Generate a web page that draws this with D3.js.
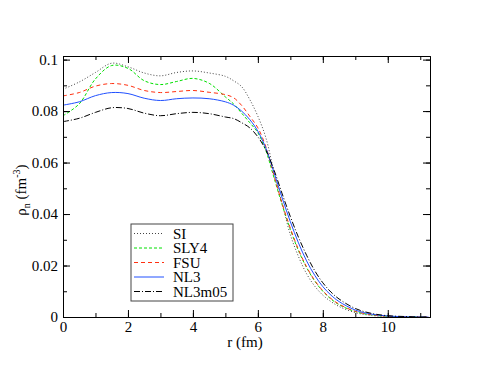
<!DOCTYPE html>
<html>
<head>
<meta charset="utf-8">
<script src="https://cdn.jsdelivr.net/npm/d3@7"></script>
<style>
  body { margin: 0; background: #fff; }
  svg text { fill: #000; }
</style>
</head>
<body>
<script>
// radius grid (fm)
const r = [0, 0.5, 1, 1.5, 2, 2.5, 3, 3.5, 4, 4.5, 5, 5.25, 5.5, 5.75, 6, 6.25, 6.5, 6.75, 7, 7.25, 7.5, 7.75, 8, 8.25, 8.5, 9, 9.5, 10, 10.5, 11, 11.25];

// neutron densities (fm^-3)
const si     = [0.0885, 0.0913, 0.0950, 0.0986, 0.0972, 0.0948, 0.0937, 0.0950, 0.0956, 0.0948, 0.0935, 0.0918, 0.0895, 0.0845, 0.0780, 0.0695, 0.0560, 0.0440, 0.0320, 0.0235, 0.0168, 0.0120, 0.0085, 0.0060, 0.0041, 0.0017, 0.0006, 0.0002, 0.0001, 0, 0];
const sly4   = [0.0782, 0.0828, 0.0925, 0.0977, 0.0966, 0.0918, 0.0903, 0.0915, 0.0927, 0.0908, 0.0855, 0.0828, 0.0792, 0.0755, 0.0716, 0.0645, 0.0540, 0.0435, 0.0340, 0.0258, 0.0192, 0.0140, 0.0100, 0.0070, 0.0048, 0.0021, 0.0008, 0.0003, 0.0001, 0, 0];
const fsu    = [0.0859, 0.0872, 0.0897, 0.0907, 0.0900, 0.0880, 0.0872, 0.0876, 0.0880, 0.0873, 0.0864, 0.0852, 0.0822, 0.0780, 0.0735, 0.0660, 0.0548, 0.0440, 0.0345, 0.0262, 0.0195, 0.0142, 0.0102, 0.0072, 0.0050, 0.0022, 0.0009, 0.0003, 0.0001, 0, 0];
const nl3    = [0.0823, 0.0836, 0.0860, 0.0872, 0.0868, 0.0850, 0.0841, 0.0848, 0.0851, 0.0848, 0.0836, 0.0823, 0.0800, 0.0767, 0.0722, 0.0655, 0.0560, 0.0462, 0.0370, 0.0288, 0.0218, 0.0162, 0.0118, 0.0085, 0.0060, 0.0027, 0.0011, 0.0004, 0.0001, 0, 0];
const nl3m05 = [0.0759, 0.0772, 0.0795, 0.0813, 0.0810, 0.0792, 0.0782, 0.0790, 0.0795, 0.0790, 0.0777, 0.0771, 0.0755, 0.0735, 0.0700, 0.0648, 0.0570, 0.0478, 0.0390, 0.0310, 0.0240, 0.0180, 0.0133, 0.0097, 0.0070, 0.0033, 0.0014, 0.0005, 0.0002, 0, 0];

const names = ['SI', 'SLY4', 'FSU', 'NL3', 'NL3m05'];
const xTicks = [0, 2, 4, 6, 8, 10];
const yTicks = [0, 0.02, 0.04, 0.06, 0.08, 0.1];

const series = [
    { name: names[0], values: si,     color: '#444', dash: '1,2' },
    { name: names[1], values: sly4,   color: '#00e000', dash: '3,2' },
    { name: names[2], values: fsu,    color: '#ff3010', dash: '4,3' },
    { name: names[3], values: nl3,    color: '#2050ff', dash: null },
    { name: names[4], values: nl3m05, color: '#000', dash: '6,2,1,2' }
];

const SERIF = 'Liberation Serif';

const W = 485, H = 374;
const m = { left: 63, top: 56, right: 55, bottom: 57 };
const w = W - m.left - m.right, h = H - m.top - m.bottom;

const svg = d3.select('body').append('svg')
    .attr('width', W)
    .attr('height', H);

const x = d3.scaleLinear().domain([0, 11.3]).range([m.left, m.left + w]);
const y = d3.scaleLinear().domain([0, 0.1014]).range([m.top + h, m.top]);

// curves
const line = d3.line()
    .x((d, i) => x(r[i]))
    .y(d => y(d))
    .curve(d3.curveCatmullRom.alpha(0.5));

svg.append('g')
    .selectAll('path')
    .data(series)
    .enter()
    .append('path')
    .attr('fill', 'none')
    .attr('stroke', d => d.color)
    .attr('stroke-width', 1)
    .attr('stroke-dasharray', d => d.dash)
    .attr('d', d => line(d.values));

// axes, ticks point inward on all four sides
const minorX = d3.range(0, 12, 1);
const minorY = d3.range(0, 0.105, 0.01);

function styleAxis(g) {
    g.attr('font-family', SERIF).attr('font-size', 15);
    g.selectAll('.domain').attr('stroke', '#000');
    g.selectAll('.tick line').attr('stroke', '#000');
}

svg.append('g')
    .attr('transform', `translate(0,${m.top + h})`)
    .call(d3.axisBottom(x).tickValues(minorX).tickSize(-4).tickFormat('').tickSizeOuter(0))
    .call(styleAxis);
svg.append('g')
    .attr('transform', `translate(0,${m.top + h})`)
    .call(d3.axisBottom(x).tickValues(xTicks).tickSize(-7).tickPadding(4).tickFormat(d3.format('d')).tickSizeOuter(0))
    .call(styleAxis);

svg.append('g')
    .attr('transform', `translate(0,${m.top})`)
    .call(d3.axisTop(x).tickValues(minorX).tickSize(-4).tickFormat('').tickSizeOuter(0))
    .call(styleAxis);
svg.append('g')
    .attr('transform', `translate(0,${m.top})`)
    .call(d3.axisTop(x).tickValues(xTicks).tickSize(-7).tickFormat('').tickSizeOuter(0))
    .call(styleAxis);

svg.append('g')
    .attr('transform', `translate(${m.left},0)`)
    .call(d3.axisLeft(y).tickValues(minorY).tickSize(-4).tickFormat('').tickSizeOuter(0))
    .call(styleAxis);
svg.append('g')
    .attr('transform', `translate(${m.left},0)`)
    .call(d3.axisLeft(y).tickValues(yTicks).tickSize(-7).tickPadding(5).tickFormat(d => d === 0 ? '0' : String(+d.toFixed(2))).tickSizeOuter(0))
    .call(styleAxis);

svg.append('g')
    .attr('transform', `translate(${m.left + w},0)`)
    .call(d3.axisRight(y).tickValues(minorY).tickSize(-4).tickFormat('').tickSizeOuter(0))
    .call(styleAxis);
svg.append('g')
    .attr('transform', `translate(${m.left + w},0)`)
    .call(d3.axisRight(y).tickValues(yTicks).tickSize(-7).tickFormat('').tickSizeOuter(0))
    .call(styleAxis);

// axis titles
svg.append('text')
    .attr('x', 245)
    .attr('y', 347)
    .attr('text-anchor', 'middle')
    .attr('font-family', SERIF)
    .attr('font-size', 15)
    .text('r (fm)');

const yl = svg.append('text')
    .attr('transform', 'translate(26,190) rotate(-90)')
    .attr('text-anchor', 'middle')
    .attr('font-family', SERIF)
    .attr('font-size', 15);
yl.append('tspan').text('ρ');
yl.append('tspan').attr('dy', 4).attr('font-size', 10).text('n');
yl.append('tspan').attr('dy', -4).text(' (fm');
yl.append('tspan').attr('dy', -6).attr('font-size', 10).text('-3');
yl.append('tspan').attr('dy', 6).text(')');

// legend
const leg = svg.append('g').attr('transform', 'translate(131,224)');
leg.append('rect')
    .attr('width', 102)
    .attr('height', 77)
    .attr('fill', '#fff')
    .attr('stroke', '#444');

const row = leg.selectAll('g.row')
    .data(series)
    .enter()
    .append('g')
    .attr('class', 'row')
    .attr('transform', (d, i) => `translate(0,${9.5 + i * 14.5})`);
row.append('line')
    .attr('x1', 3).attr('x2', 33)
    .attr('stroke', d => d.color)
    .attr('stroke-width', 1)
    .attr('stroke-dasharray', d => d.dash);
row.append('text')
    .attr('x', 42)
    .attr('dy', '0.35em')
    .attr('font-family', SERIF)
    .attr('font-size', 15)
    .text(d => d.name);
</script>
</body>
</html>
